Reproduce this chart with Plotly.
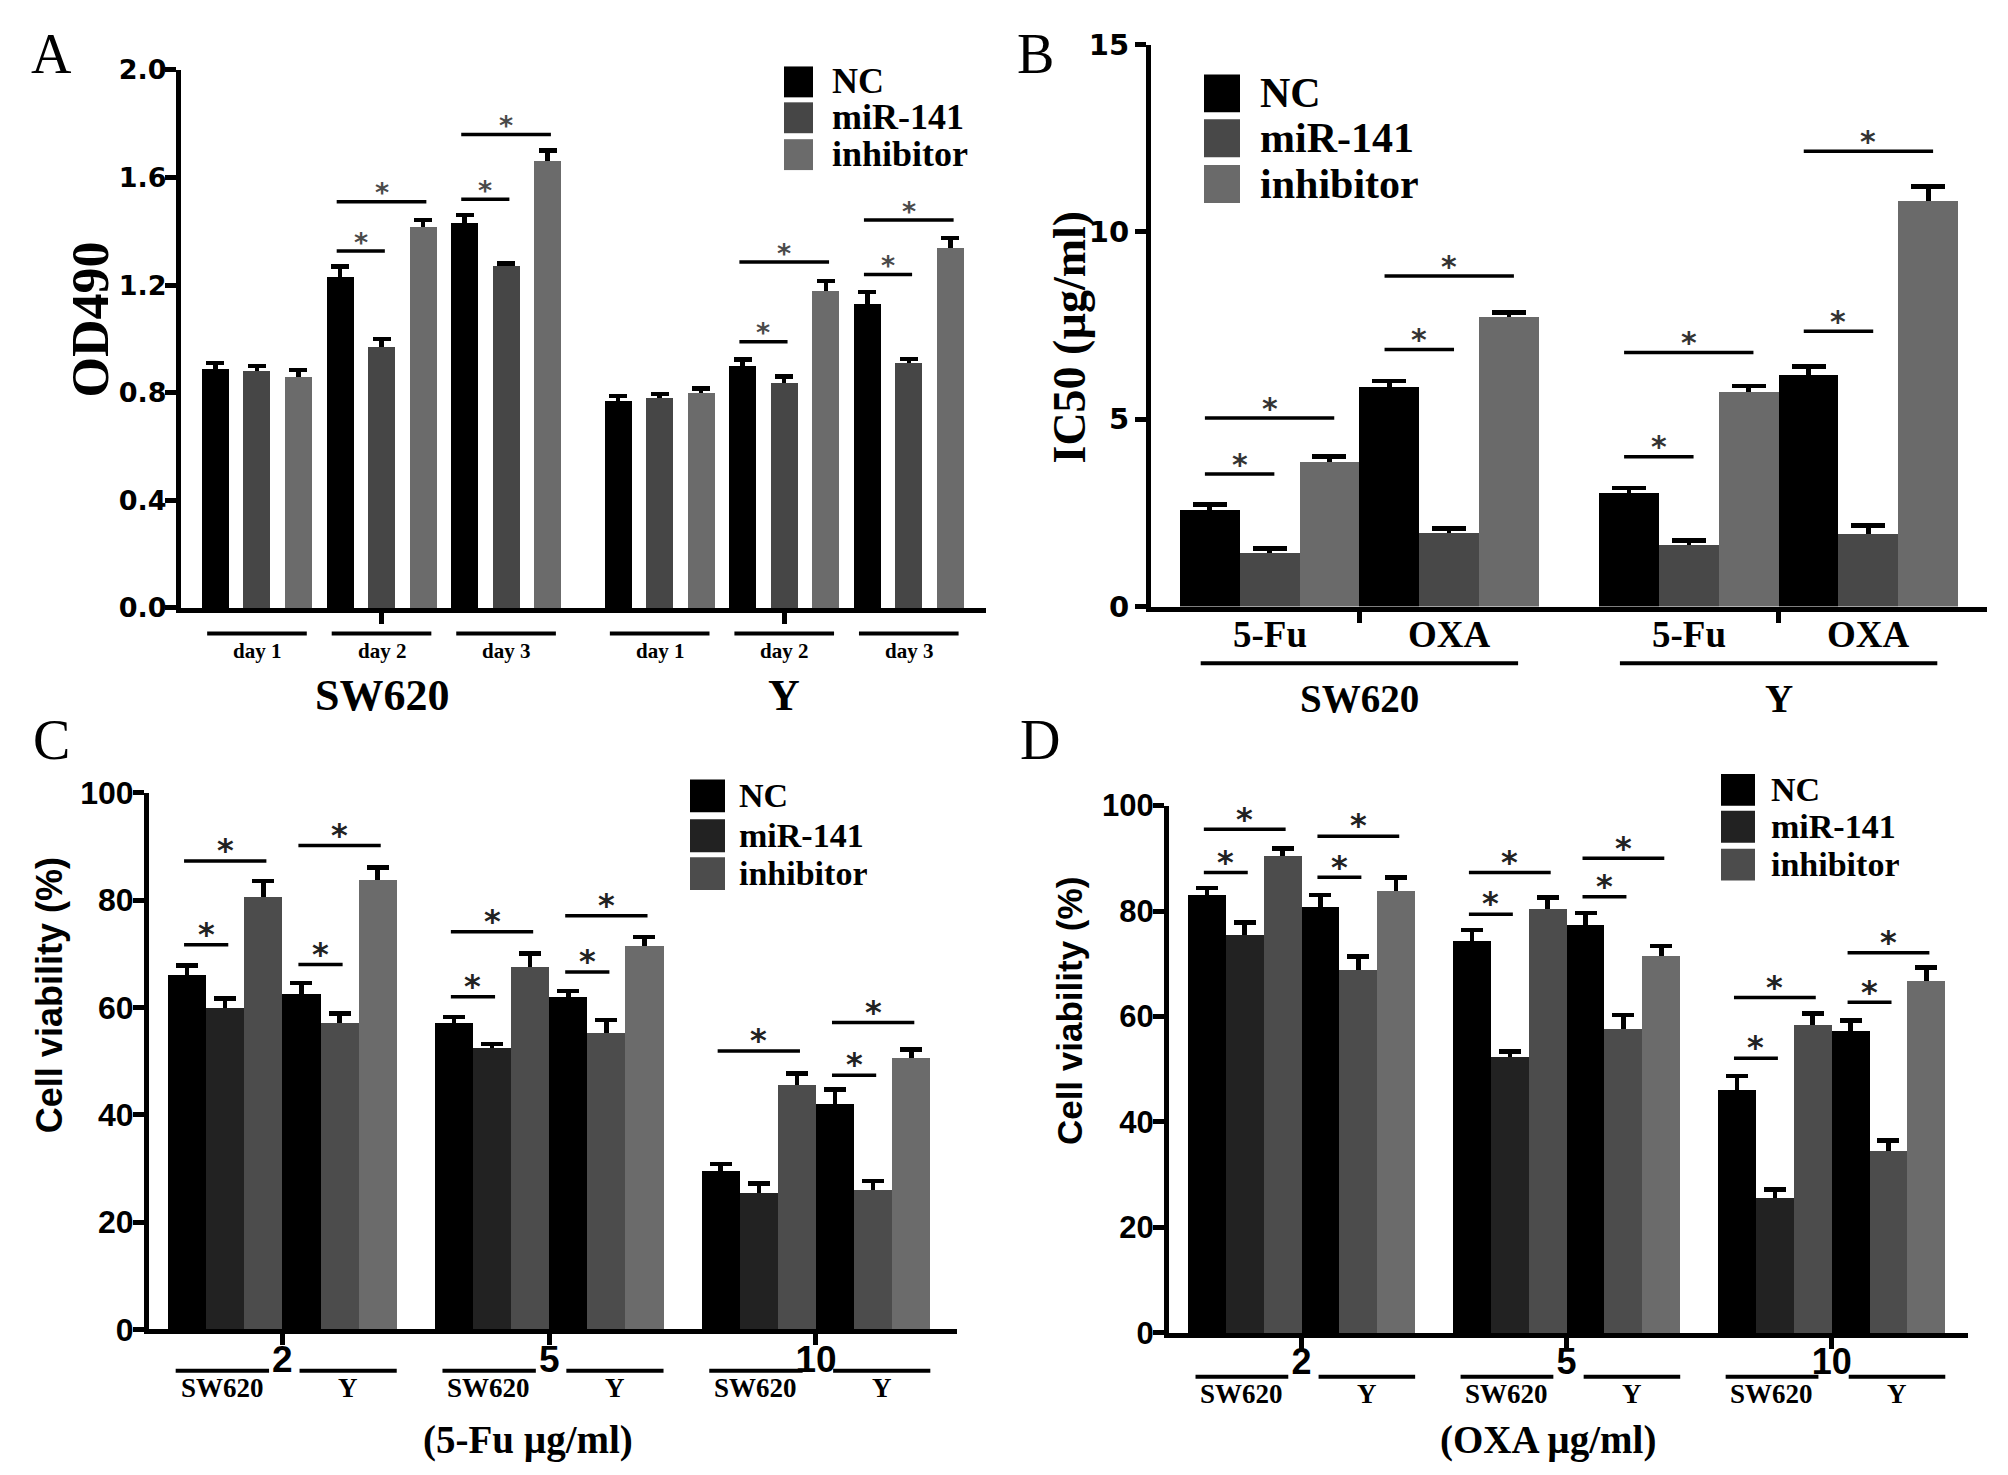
import plotly.graph_objects as go

W, H = 2008, 1475

series = ['NC', 'miR-141', 'inhibitor']
cell_lines = ['SW620', 'Y']

# ---- A: proliferation (OD490), groups = SW620 day1-3, Y day1-3
a_days = ['day 1', 'day 2', 'day 3']
a_nc = [0.89, 1.23, 1.43, 0.77, 0.90, 1.13]
a_mir = [0.88, 0.97, 1.27, 0.78, 0.835, 0.91]
a_inh = [0.86, 1.415, 1.66, 0.80, 1.18, 1.34]
a_nc_err = [0.02, 0.04, 0.03, 0.017, 0.024, 0.044]
a_mir_err = [0.02, 0.03, 0.01, 0.015, 0.025, 0.015]
a_inh_err = [0.025, 0.027, 0.04, 0.015, 0.036, 0.036]
a_sig = [(1, 1, 1.327), (1, 2, 1.51), (2, 1, 1.519), (2, 2, 1.76),
         (4, 1, 0.99), (4, 2, 1.286), (5, 1, 1.24), (5, 2, 1.442)]
a_yticks = [0, 0.4, 0.8, 1.2, 1.6, 2.0]
a_yticktext = ['0.0', '0.4', '0.8', '1.2', '1.6', '2.0']

# ---- B: IC50, groups = SW620 5-Fu, SW620 OXA, Y 5-Fu, Y OXA
b_drugs = ['5-Fu', 'OXA']
b_nc = [2.59, 5.86, 3.05, 6.19]
b_mir = [1.43, 1.98, 1.65, 1.95]
b_inh = [3.87, 7.74, 5.74, 10.83]
b_nc_err = [0.13, 0.16, 0.12, 0.22]
b_mir_err = [0.12, 0.10, 0.11, 0.21]
b_inh_err = [0.13, 0.11, 0.15, 0.38]
b_sig = [(0, 1, 3.54), (0, 2, 5.03), (1, 1, 6.86), (1, 2, 8.82),
         (2, 1, 4.0), (2, 2, 6.78), (3, 1, 7.35), (3, 2, 12.15)]
b_yticks = [0, 5, 10, 15]

# ---- C: viability vs 5-Fu, groups = (2: SW620, Y), (5: SW620, Y), (10: SW620, Y)
doses = ['2', '5', '10']
c_nc = [66.0, 62.6, 57.1, 61.9, 29.5, 42.0]
c_mir = [59.9, 57.1, 52.5, 55.3, 25.5, 26.1]
c_inh = [80.7, 83.8, 67.5, 71.4, 45.6, 50.7]
c_nc_err = [1.8, 2.0, 1.1, 1.2, 1.3, 2.7]
c_mir_err = [1.8, 1.8, 0.7, 2.4, 1.7, 1.6]
c_inh_err = [2.9, 2.3, 2.6, 1.7, 2.1, 1.5]
c_sig = [(0, 1, 71.7), (0, 2, 87.3), (1, 1, 68.0), (1, 2, 90.2),
         (2, 1, 62.0), (2, 2, 74.1), (3, 1, 66.6), (3, 2, 77.1),
         (4, 2, 51.9), (5, 1, 47.4), (5, 2, 57.2)]

# ---- D: viability vs OXA
d_nc = [83.2, 80.9, 74.5, 77.5, 46.2, 57.3]
d_mir = [75.5, 68.9, 52.5, 57.8, 25.7, 34.5]
d_inh = [90.5, 83.9, 80.5, 71.6, 58.5, 66.8]
d_nc_err = [1.2, 2.1, 1.9, 2.1, 2.5, 1.9]
d_mir_err = [2.3, 2.5, 0.9, 2.5, 1.5, 2.0]
d_inh_err = [1.4, 2.5, 2.1, 1.8, 2.1, 2.5]
d_sig = [(0, 1, 87.3), (0, 2, 95.5), (1, 1, 86.4), (1, 2, 94.2),
         (2, 1, 79.4), (2, 2, 87.3), (3, 1, 82.7), (3, 2, 90.0),
         (4, 1, 52.1), (4, 2, 63.6), (5, 1, 62.7), (5, 2, 72.1)]
cv_yticks = [0, 20, 40, 60, 80, 100]

SERIF = 'Liberation Serif'
SANS = 'DejaVu Sans'
ARIAL = 'Liberation Sans'

# the screenshot pads the page a little top and bottom, so pixel rows
# measured on the reference are mapped onto the page with this
YS, YO = 1.0214, -15.7


def px(x):
    return x / W


def py(y):
    return 1 - (YS * y + YO) / H


fig = go.Figure()
shapes = []
annos = []


def panel(n, bases, line_of, vals, errs, colors, width, cap, sig, star_size, star_col, arrow_minus):
    xa = 'x' if n == 1 else 'x%d' % n
    ya = 'y' if n == 1 else 'y%d' % n
    # transparent trace underneath carries the (upward) error bars
    ex, ey, ee = [], [], []
    for j in range(3):
        for g, b in enumerate(bases):
            ex.append(b + j)
            ey.append(vals[j][g])
            ee.append(errs[j][g])
    fig.add_trace(go.Bar(x=ex, y=ey, width=width, xaxis=xa, yaxis=ya, showlegend=False,
                         marker=dict(color='rgba(0,0,0,0)', line=dict(width=0)),
                         error_y=dict(type='data', array=ee, arrayminus=[arrow_minus] * len(ee),
                                      symmetric=False, color='black', thickness=4.5, width=cap),
                         hoverinfo='skip'))
    for j in range(3):
        fig.add_trace(go.Bar(
            x=[b + j for b in bases], y=vals[j], width=width, name=series[j],
            xaxis=xa, yaxis=ya, showlegend=False,
            marker=dict(color=[colors[line_of(g)][j] for g in range(len(bases))], line=dict(width=0)),
        ))
    for g, j, yv in sig:
        x0 = bases[g] - 0.08
        x1 = bases[g] + j + 0.08
        shapes.append(dict(type='line', xref=xa, yref=ya, x0=x0, x1=x1, y0=yv, y1=yv,
                           line=dict(color='black', width=3.5)))
        annos.append(dict(x=(x0 + x1) / 2, y=yv, xref=xa, yref=ya, text='*', showarrow=False,
                          yanchor='bottom', yshift=-star_size * 0.32,
                          font=dict(family=SANS, size=star_size, color=star_col, weight='bold')))


# A
a_bases = [g * 3 + (0.7 if g >= 3 else 0) for g in range(6)]
a_cols = [['#000000', '#464646', '#6b6b6b']] * 2
panel(1, a_bases, lambda g: g // 3, [a_nc, a_mir, a_inh], [a_nc_err, a_mir_err, a_inh_err],
      a_cols, 0.65, 9, a_sig, 27, '#4a4a4a', 0.03)

# B
b_bases = [g * 3 + (1 if g >= 2 else 0) for g in range(4)]
b_cols = [['#000000', '#484848', '#6a6a6a']] * 2
panel(2, b_bases, lambda g: g // 2, [b_nc, b_mir, b_inh], [b_nc_err, b_mir_err, b_inh_err],
      b_cols, 1.0, 17, b_sig, 30, '#333333', 0.2)

# C / D
cd_bases = [d * 7 + l * 3 for d in range(3) for l in range(2)]
cd_cols = [['#000000', '#222222', '#4c4c4c'], ['#000000', '#4c4c4c', '#6b6b6b']]
panel(3, cd_bases, lambda g: g % 2, [c_nc, c_mir, c_inh], [c_nc_err, c_mir_err, c_inh_err],
      cd_cols, 1.0, 11, c_sig, 32, '#222222', 1.5)
panel(4, cd_bases, lambda g: g % 2, [d_nc, d_mir, d_inh], [d_nc_err, d_mir_err, d_inh_err],
      cd_cols, 1.0, 11, d_sig, 32, '#222222', 1.5)


# ---- axes
def xaxis(x0, x1, rng, tickvals, ticktext, anchor, fs=28, fam=SANS, standoff=0):
    return dict(domain=[px(x0), px(x1)], range=rng, anchor=anchor, showline=True, linewidth=5,
                linecolor='black', ticks='outside', ticklen=11, tickwidth=5, tickcolor='black',
                tickvals=tickvals, ticktext=ticktext, showgrid=False, zeroline=False,
                ticklabelstandoff=standoff,
                tickfont=dict(family=fam, size=fs, color='black', weight='bold'), fixedrange=True)


def yaxis(y_top, y_bot, rng, tickvals, ticktext, anchor, fs=28, fam=SANS, standoff=0):
    return dict(domain=[py(y_bot), py(y_top)], range=rng, anchor=anchor, showline=True, linewidth=5,
                linecolor='black', ticks='outside', ticklen=11, tickwidth=5, tickcolor='black',
                tickvals=tickvals, ticktext=ticktext, showgrid=False, zeroline=False,
                ticklabelstandoff=standoff,
                tickfont=dict(family=fam, size=fs, color='black', weight='bold'), fixedrange=True)


c_ticks = [b + 2.5 for b in cd_bases[::2]]
cv_text = [str(v) for v in cv_yticks]
fig.update_layout(
    xaxis=xaxis(181, 986, [-0.83, 18.56], [a_bases[1] + 1, a_bases[4] + 1], ['', ''], 'y'),
    yaxis=yaxis(67.5, 607.4, [0, 2.0], a_yticks, a_yticktext, 'x', 27, standoff=-7),
    xaxis2=xaxis(1151, 1987, [-0.98, 12.98], [b_bases[0] + 2.5, b_bases[2] + 2.5], ['', ''], 'y2'),
    yaxis2=yaxis(42, 606, [0, 15], b_yticks, [str(v) for v in b_yticks], 'x2', 29),
    xaxis3=xaxis(149, 957, [-1.0, 20.2], c_ticks, doses, 'y3', 37, ARIAL, -18),
    yaxis3=yaxis(793, 1331.5, [0, 100], cv_yticks, cv_text, 'x3', 32, ARIAL, -7),
    xaxis4=xaxis(1169, 1968, [-1.0, 20.1], c_ticks, doses, 'y4', 36, ARIAL, -18),
    yaxis4=yaxis(805.7, 1335, [0, 100], cv_yticks, cv_text, 'x4', 31, ARIAL, -7),
)


def text(x, y, s, size, family=SERIF, bold=True, angle=0, xref='paper', xanchor='center',
         color='black', height=None):
    a = dict(x=x if xref != 'paper' else px(x), y=py(y), xref=xref, yref='paper', text=s,
             showarrow=False, xanchor=xanchor, yanchor='middle', textangle=angle,
             font=dict(family=family, size=size, color=color, weight='bold' if bold else 'normal'))
    if height:
        a['height'] = height
    annos.append(a)


def hline(xref, x0, x1, y, width=4):
    shapes.append(dict(type='line', xref=xref, yref='paper', x0=x0, x1=x1, y0=py(y), y1=py(y),
                       line=dict(color='black', width=width)))


# panel letters
for letter, lx, ly in [('A', 51, 51), ('B', 1035, 51), ('C', 51, 740), ('D', 1040, 740)]:
    text(lx, ly, letter, 56, bold=False)

# y titles
text(91, 318, 'OD490', 52, angle=-90)
text(1069, 336, 'IC50 (µg/ml)', 46, angle=-90)
text(49, 996, 'Cell viability (%)', 36, family=ARIAL, angle=-90)
text(1069, 1012, 'Cell viability (%)', 35, family=ARIAL, angle=-90)

# A under-axis labels
for g, b in enumerate(a_bases):
    c = b + 1
    hline('x', c - 1.2, c + 1.2, 633)
    text(c, 651, a_days[g % 3], 21, xref='x')
for l in range(2):
    text(a_bases[l * 3 + 1] + 1, 695, cell_lines[l], 44, xref='x')

# B under-axis labels
for g, b in enumerate(b_bases):
    text(b + 1, 634, b_drugs[g % 2], 37, xref='x2')
for l in range(2):
    c = b_bases[l * 2] + 2.5
    hline('x2', c - 2.65, c + 2.65, 663)
    text(c, 698, cell_lines[l], 39, xref='x2')

# C / D under-axis labels
for xr, yl, ylab, lab, lab_x in [('x3', 1373, 1390, '(5-Fu µg/ml)', 528), ('x4', 1379, 1396, '(OXA µg/ml)', 1548)]:
    for d in range(3):
        b = cd_bases[d * 2]
        hline(xr, b - 0.3, b + 2.15, yl)
        hline(xr, b + 2.95, b + 5.5, yl)
        text(b + 0.92, ylab, 'SW620', 27, xref=xr)
        text(b + 4.22, ylab, 'Y', 27, xref=xr)
    text(lab_x, 1442, lab, 39)

# manual legends
legends = [
    (784, 813, [79.5, 115.5, 152.5], 31, 830, 36, ['#000000', '#464646', '#6b6b6b']),
    (1204, 1240, [91, 136, 182], 38, 1258, 42, ['#000000', '#484848', '#6a6a6a']),
    (690, 725, [796, 836, 874], 33, 737, 34, ['#000000', '#222222', '#4c4c4c']),
    (1721, 1755, [790, 827, 865], 32, 1769, 34, ['#000000', '#222222', '#4c4c4c']),
]
for x0, x1, rows, h, tx, fs, cols in legends:
    step = (rows[1] - rows[0]) * YS
    for j, yc in enumerate(rows):
        shapes.append(dict(type='rect', xref='paper', yref='paper', x0=px(x0), x1=px(x1),
                           y0=py(yc + h / 2), y1=py(yc - h / 2), fillcolor=cols[j], line=dict(width=0)))
        text(tx, yc, series[j], fs, xanchor='left', height=step - 2)

fig.update_layout(
    width=W, height=H, margin=dict(l=0, r=0, t=0, b=0),
    paper_bgcolor='white', plot_bgcolor='white',
    barmode='overlay', bargap=0, showlegend=False,
    shapes=shapes, annotations=annos,
)

fig.write_html('out.html', config={'displayModeBar': False},
               post_script="document.body.style.margin='0';document.body.style.overflow='hidden';")
